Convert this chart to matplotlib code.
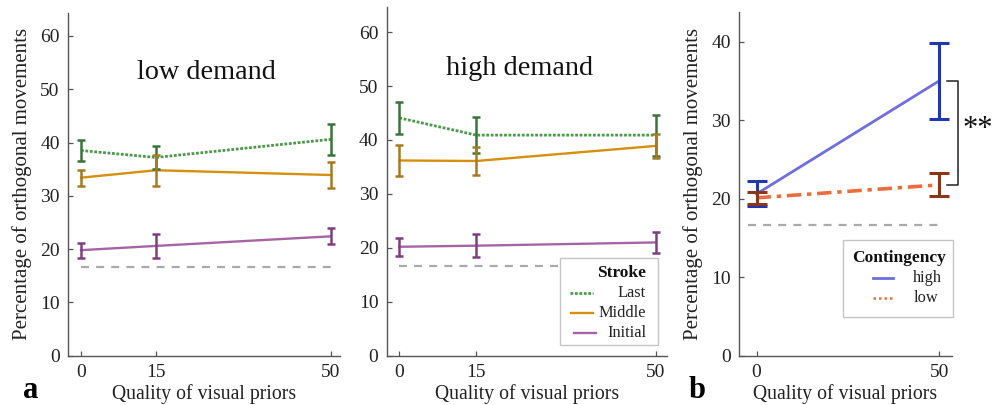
import matplotlib
matplotlib.use("Agg")
import matplotlib.pyplot as plt
from matplotlib.patches import Rectangle

plt.rcParams['font.family'] = ['Liberation Serif', 'DejaVu Serif']

# Quality of visual priors
priors_a = [0, 15, 50]
priors_b = [0, 50]
chance = 100 / 6

# Panel a: percentage of orthogonal movements per stroke
low_last = [38.5, 37.2, 40.6]
low_last_err = [1.9, 2.1, 2.9]
low_middle = [33.4, 34.8, 33.9]
low_middle_err = [1.5, 2.9, 2.5]
low_initial = [19.8, 20.6, 22.4]
low_initial_err = [1.4, 2.2, 1.5]

high_last = [44.1, 40.9, 40.9]
high_last_err = [2.95, 3.4, 3.8]
high_middle = [36.2, 36.1, 38.9]
high_middle_err = [2.8, 2.6, 2.3]
high_initial = [20.2, 20.4, 21.0]
high_initial_err = [1.65, 2.1, 1.95]

# Panel b: contingency
cont_high = [20.6, 35.0]
cont_high_err = [1.6, 4.85]
cont_low = [20.1, 21.75]
cont_low_err = [0.8, 1.45]

stroke_labels = ['Last', 'Middle', 'Initial']
contingency_labels = ['high', 'low']

GREEN_L, GREEN_E = '#4a9a48', '#3a7438'
ORANGE_L, ORANGE_E = '#d4900e', '#a57a22'
PURPLE_L, PURPLE_E = '#a565a5', '#7e3f7e'
BLUE_L, BLUE_E = '#6e6ede', '#2236b0'
RED_L, RED_E = '#ee6c3c', '#8a361a'
SPINE = '#555555'
TXT = '#222222'

DOTTED = (0, (1.0, 0.6))
CHANCE_DASH = (0, (3.6, 3.2))
DASHDOT = (0, (4, 1.6, 1.2, 1.6))

W, H = 997, 405
fig = plt.figure(figsize=(W / 100, H / 100), dpi=100)


def fx(px):
    return px / W


def fy(py):
    return 1 - py / H


def axes_px(left, top, right, bottom):
    return fig.add_axes([fx(left), fy(bottom), (right - left) / W, (bottom - top) / H])


def style(ax):
    for s in ['top', 'right']:
        ax.spines[s].set_visible(False)
    for s in ['left', 'bottom']:
        ax.spines[s].set_color(SPINE)
        ax.spines[s].set_linewidth(1.0)
    ax.tick_params(direction='in', length=3.5, width=0.9, color=SPINE,
                   labelsize=14, labelcolor=TXT, pad=6)


def box_legend(box, title, title_xy, title_ha, rows):
    """Framed key in figure pixels: rows are (label, colour, lw, ls, x0, x1, tx, ha, y)."""
    l, t, r, b = box
    fig.add_artist(Rectangle((fx(l), fy(b)), (r - l) / W, (b - t) / H,
                             transform=fig.transFigure, facecolor='white',
                             edgecolor='#c4c4c4', lw=1.0, zorder=10))
    fig.text(fx(title_xy[0]), fy(title_xy[1]), title, fontsize=12.5, fontweight='bold',
             ha=title_ha, va='center', color='#111111', zorder=11)
    for label, col, lw, ls, x0, x1, tx, ha, y in rows:
        fig.add_artist(plt.Line2D([fx(x0), fx(x1)], [fy(y), fy(y)], transform=fig.transFigure,
                                  color=col, lw=lw, ls=ls, zorder=11))
        fig.text(fx(tx), fy(y), label, fontsize=11.8, ha=ha, va='center',
                 color=TXT, zorder=11)


def stroke_panel(ax, last, last_e, mid, mid_e, ini, ini_e, title, title_x):
    ax.plot([0, 50], [chance, chance], color='#aaaaaa', lw=1.6, ls=CHANCE_DASH, zorder=1)
    ax.plot(priors_a, last, color=GREEN_L, lw=2.0, ls=DOTTED, zorder=3)
    ax.errorbar(priors_a, last, yerr=last_e, fmt='none', ecolor=GREEN_E,
                elinewidth=1.8, capsize=3.2, capthick=1.8, zorder=4)
    ax.plot(priors_a, mid, color=ORANGE_L, lw=1.7, zorder=3)
    ax.errorbar(priors_a, mid, yerr=mid_e, fmt='none', ecolor=ORANGE_E,
                elinewidth=1.8, capsize=3.2, capthick=1.8, zorder=4)
    ax.plot(priors_a, ini, color=PURPLE_L, lw=1.7, zorder=3)
    ax.errorbar(priors_a, ini, yerr=ini_e, fmt='none', ecolor=PURPLE_E,
                elinewidth=1.8, capsize=3.2, capthick=1.8, zorder=4)
    ax.set_xticks(priors_a)
    ax.set_yticks(range(0, 61, 10))
    ax.set_xlabel('Quality of visual priors', fontsize=14.2, color=TXT, labelpad=2)
    ax.text(title_x, 0.825, title, transform=ax.transAxes, ha='center', va='center',
            fontsize=20.3, color='#111111')
    style(ax)


# Panel a, low demand
ax1 = axes_px(68, 13, 340, 355.7)
ax1.set_xlim(-2.6, 51.8)
ax1.set_ylim(0, 64.3)
stroke_panel(ax1, low_last, low_last_err, low_middle, low_middle_err,
             low_initial, low_initial_err, 'low demand', 0.51)
ax1.set_ylabel('Percentage of orthogonal movements', fontsize=15, color=TXT, labelpad=6)

# Panel a, high demand
ax2 = axes_px(386.7, 7.3, 667, 355.7)
ax2.set_xlim(-2.46, 52.2)
ax2.set_ylim(0, 64.6)
stroke_panel(ax2, high_last, high_last_err, high_middle, high_middle_err,
             high_initial, high_initial_err, 'high demand', 0.475)

stroke_styles = [(GREEN_L, 2.0, DOTTED, 570, 593),
                 (ORANGE_L, 1.7, '-', 571, 593),
                 (PURPLE_L, 1.7, '-', 574, 596)]
stroke_rows_y = [293.3, 313.3, 333.3]
box_legend((560, 258.3, 658.3, 345), 'Stroke', (646, 272.7), 'right',
           [(lab, c, lw, ls, x0, x1, 646, 'right', y)
            for lab, (c, lw, ls, x0, x1), y in zip(stroke_labels, stroke_styles, stroke_rows_y)])

# Panel b, contingency
ax3 = axes_px(739, 11.7, 951.7, 355.7)
ax3.set_xlim(-4.8, 53.4)
ax3.set_ylim(0, 43.8)
ax3.plot([-2.4, 50], [chance, chance], color='#aaaaaa', lw=1.6, ls=CHANCE_DASH, zorder=1)
ax3.plot(priors_b, cont_high, color=BLUE_L, lw=2.0, zorder=3)
ax3.errorbar(priors_b, cont_high, yerr=cont_high_err, fmt='none', ecolor=BLUE_E,
             elinewidth=2.2, capsize=7.5, capthick=2.2, zorder=4)
ax3.plot(priors_b, cont_low, color=RED_L, lw=2.6, ls=DASHDOT, zorder=3)
ax3.errorbar(priors_b, cont_low, yerr=cont_low_err, fmt='none', ecolor=RED_E,
             elinewidth=2.2, capsize=7.5, capthick=2.2, zorder=5)
ax3.set_xticks(priors_b)
ax3.set_yticks(range(0, 41, 10))
ax3.set_xlabel('Quality of visual priors', fontsize=14.2, color=TXT, labelpad=2)
ax3.set_ylabel('Percentage of orthogonal movements', fontsize=15, color=TXT, labelpad=6)
style(ax3)

# Significance bracket between contingencies at prior quality 50
bx0, bx1 = 52.0, 55.2
ax3.plot([bx0, bx1, bx1, bx0], [cont_high[1], cont_high[1], cont_low[1], cont_low[1]],
         color='#222222', lw=1.1, clip_on=False, zorder=6)
ax3.text(60.6, (cont_high[1] + cont_low[1]) / 2 + 0.4, '**', fontsize=22,
         ha='center', va='center', color='#111111', clip_on=False)

cont_styles = [(BLUE_L, 2.0, '-', 872.7, 893.3),
               (RED_L, 1.8, (0, (1, 1.2)), 872.7, 891.7)]
cont_rows_y = [278.3, 297.7]
box_legend((843.3, 240, 953.3, 316.7), 'Contingency', (899, 258.3), 'center',
           [(lab, c, lw, ls, x0, x1, 913.3, 'left', y)
            for lab, (c, lw, ls, x0, x1), y in zip(contingency_labels, cont_styles, cont_rows_y)])

# Panel letters
fig.text(fx(23), fy(398.5), 'a', fontsize=22, fontweight='bold', ha='left', va='baseline')
fig.text(fx(689), fy(398.5), 'b', fontsize=22, fontweight='bold', ha='left', va='baseline')

fig.savefig('out.png', dpi=100)
